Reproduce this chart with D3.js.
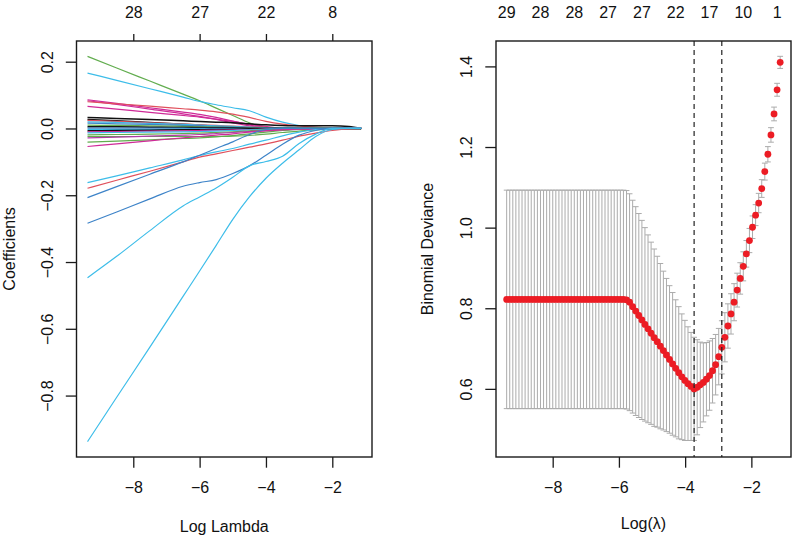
<!DOCTYPE html>
<html><head><meta charset="utf-8">
<script src="https://cdn.jsdelivr.net/npm/d3@7"></script>
<style>
body{margin:0;background:#fff}
svg{display:block}
text{font-family:"Liberation Sans",Arial,Helvetica,sans-serif;font-size:16px;fill:#111}
</style>
</head><body>
<svg id="chart" width="800" height="536"></svg>
<script>
// ---------------- LEFT PANEL DATA (coefficient paths) ----------------
const knotLogLambda = [-9.38,-8.5,-7.5,-6.5,-6,-5.5,-5,-4.5,-4,-3.5,-3,-2.5,-2,-1.5,-1.13];
const coefPaths = [
  [0.216,0.181,0.142,0.103,0.083,0.061,0.039,0.017,0.002,0,0,0,0,0,0],
  [0.166,0.144,0.119,0.094,0.081,0.071,0.062,0.053,0.034,0.019,0.009,0.003,0,0,0],
  [0.086,0.075,0.062,0.049,0.042,0.033,0.022,0.011,0.003,0,0,0,0,0,0],
  [0.083,0.072,0.058,0.044,0.036,0.027,0.017,0.008,0.002,0,0,0,0,0,0],
  [0.066,0.058,0.048,0.039,0.034,0.028,0.021,0.013,0.006,0.001,0,0,0,0,0],
  [0.080,0.074,0.067,0.059,0.055,0.050,0.043,0.033,0.021,0.013,0.008,0.004,0.001,0,0],
  [0.033,0.030,0.027,0.023,0.021,0.019,0.017,0.014,0.011,0.009,0.008,0.008,0.008,0.006,0],
  [0.027,0.023,0.018,0.013,0.010,0.007,0.004,0.002,0,0,0,0,0,0,0],
  [0.024,0.021,0.017,0.013,0.011,0.009,0.007,0.005,0.003,0.001,0,0,0,0,0],
  [0.020,0.018,0.015,0.012,0.010,0.008,0.006,0.004,0.002,0,0,0,0,0,0],
  [0.016,0.014,0.012,0.009,0.008,0.006,0.004,0.002,0,0,0,0,0,0,0],
  [0.010,0.009,0.008,0.006,0.005,0.004,0.003,0.002,0.001,0,0,0,0,0,0],
  [0.005,0.005,0.004,0.003,0.003,0.002,0.002,0.001,0,0,0,0,0,0,0],
  [0.001,0.001,0.001,0.001,0,0,0,0,0,0,0,0,0,0,0],
  [-0.003,-0.003,-0.003,-0.002,-0.002,-0.002,-0.001,-0.001,0,0,0,0,0,0,0],
  [-0.007,-0.006,-0.005,-0.004,-0.004,-0.003,-0.002,-0.001,0,0,0,0,0,0,0],
  [-0.010,-0.009,-0.008,-0.007,-0.006,-0.005,-0.004,-0.003,-0.002,-0.001,0,0,0,0,0],
  [-0.013,-0.012,-0.011,-0.010,-0.009,-0.008,-0.006,-0.004,-0.002,0,0,0,0,0,0],
  [-0.019,-0.018,-0.017,-0.015,-0.014,-0.012,-0.010,-0.007,-0.004,-0.002,0,0,0,0,0],
  [-0.024,-0.024,-0.024,-0.024,-0.024,-0.024,-0.023,-0.021,-0.017,-0.012,-0.008,-0.004,-0.001,0,0],
  [-0.028,-0.026,-0.023,-0.020,-0.018,-0.015,-0.012,-0.009,-0.006,-0.004,-0.003,-0.002,-0.001,0,0],
  [-0.041,-0.038,-0.034,-0.030,-0.028,-0.025,-0.021,-0.016,-0.011,-0.006,-0.002,0,0,0,0],
  [-0.054,-0.046,-0.037,-0.028,-0.024,-0.020,-0.016,-0.011,-0.007,-0.004,-0.002,-0.001,0,0,0],
  [-0.162,-0.142,-0.118,-0.094,-0.081,-0.070,-0.060,-0.047,-0.035,-0.022,-0.011,-0.003,0,0,0],
  [-0.179,-0.155,-0.128,-0.100,-0.086,-0.076,-0.066,-0.056,-0.046,-0.035,-0.023,-0.014,-0.006,-0.001,0],
  [-0.207,-0.174,-0.137,-0.100,-0.080,-0.060,-0.040,-0.018,-0.003,0,0,0,0,0,0],
  [-0.284,-0.250,-0.211,-0.173,-0.162,-0.153,-0.135,-0.112,-0.080,-0.047,-0.020,-0.006,0,0,0],
  [-0.447,-0.383,-0.306,-0.232,-0.205,-0.178,-0.146,-0.112,-0.099,-0.083,-0.045,-0.017,0,0,0],
  [-0.938,-0.805,-0.655,-0.503,-0.427,-0.350,-0.272,-0.205,-0.149,-0.104,-0.064,-0.024,-0.003,0,0]
];
const coefColors = [
  "#62ad4f","#3dbde9","#cf2a98","#cf2a98","#cf2a98","#e0505c","#111111","#111111",
  "#e0505c","#3dbde9","#3d83c8","#62ad4f","#111111","#3d83c8","#3dbde9","#111111",
  "#cf2a98","#3dbde9","#62ad4f","#62ad4f","#b03aa8","#62ad4f","#cf2a98","#3dbde9",
  "#e0505c","#3d83c8","#3d83c8","#3dbde9","#3dbde9"
];
const xTicks = [-8,-6,-4,-2];
const leftTopTicks = [-8,-6,-4,-2];
const leftTopLabels = ["28","27","22","8"];
const leftYTicks = [0.2,0.0,-0.2,-0.4,-0.6,-0.8];

// ---------------- RIGHT PANEL DATA (cross-validation) ----------------
const cvLogLambda = [
  -9.390,-9.297,-9.204,-9.112,-9.019,-8.926,-8.833,-8.740,-8.648,-8.555,
  -8.462,-8.369,-8.276,-8.183,-8.091,-7.998,-7.905,-7.812,-7.719,-7.627,
  -7.534,-7.441,-7.348,-7.255,-7.163,-7.070,-6.977,-6.884,-6.791,-6.699,
  -6.606,-6.513,-6.420,-6.327,-6.234,-6.142,-6.049,-5.956,-5.863,-5.770,
  -5.678,-5.585,-5.492,-5.399,-5.306,-5.214,-5.121,-5.028,-4.935,-4.842,
  -4.749,-4.657,-4.564,-4.471,-4.378,-4.285,-4.193,-4.100,-4.007,-3.914,
  -3.821,-3.729,-3.636,-3.543,-3.450,-3.357,-3.264,-3.172,-3.079,-2.986,
  -2.893,-2.800,-2.708,-2.615,-2.522,-2.429,-2.336,-2.244,-2.151,-2.058,
  -1.965,-1.872,-1.779,-1.687,-1.594,-1.501,-1.408,-1.315,-1.223,-1.130
];
const cvMean = [
  0.822,0.822,0.822,0.822,0.822,0.822,0.822,0.822,0.822,0.822,
  0.822,0.822,0.822,0.822,0.822,0.822,0.822,0.822,0.822,0.822,
  0.822,0.822,0.822,0.822,0.822,0.822,0.822,0.822,0.822,0.822,
  0.822,0.822,0.822,0.822,0.822,0.822,0.822,0.822,0.822,0.821,
  0.815,0.804,0.793,0.782,0.771,0.760,0.749,0.738,0.727,0.717,
  0.706,0.695,0.684,0.673,0.662,0.651,0.640,0.630,0.621,0.613,
  0.606,0.600,0.604,0.610,0.616,0.624,0.633,0.645,0.660,0.680,
  0.703,0.728,0.756,0.786,0.815,0.845,0.874,0.904,0.935,0.968,
  1.001,1.031,1.061,1.097,1.139,1.182,1.230,1.282,1.342,1.410
];
const cvSD = [
  0.271,0.271,0.271,0.271,0.271,0.271,0.271,0.271,0.271,0.271,
  0.271,0.271,0.271,0.271,0.271,0.271,0.271,0.271,0.271,0.271,
  0.271,0.271,0.271,0.271,0.271,0.271,0.271,0.271,0.271,0.271,
  0.271,0.271,0.271,0.271,0.271,0.271,0.271,0.271,0.271,0.271,
  0.269,0.264,0.259,0.253,0.247,0.240,0.233,0.226,0.220,0.212,
  0.205,0.197,0.190,0.183,0.177,0.170,0.164,0.156,0.149,0.141,
  0.134,0.128,0.118,0.106,0.098,0.091,0.086,0.080,0.075,0.070,
  0.066,0.061,0.055,0.050,0.046,0.042,0.039,0.036,0.033,0.030,
  0.028,0.026,0.024,0.022,0.021,0.019,0.018,0.017,0.016,0.015
];
const rightTopPos = [-9.390,-8.369,-7.348,-6.327,-5.306,-4.285,-3.264,-2.244,-1.223];
const rightTopLabels = ["29","28","28","27","27","22","17","10","1"];
const rightYTicks = [0.6,0.8,1.0,1.2,1.4];
const lambdaMin = -3.729;
const lambda1se = -2.893;

// ---------------- DRAWING ----------------
const svg = d3.select("#chart");
const LB = {x0:76.5, x1:372, y0:41, y1:457};
const RB = {x0:496, x1:791, y0:41, y1:457};
const xDom = [-9.712, -0.803];
const xL = d3.scaleLinear().domain(xDom).range([LB.x0, LB.x1]);
const yL = d3.scaleLinear().domain([-0.984, 0.262]).range([LB.y1, LB.y0]);
const xR = d3.scaleLinear().domain(xDom).range([RB.x0, RB.x1]);
const yR = d3.scaleLinear().domain([0.431, 1.463]).range([RB.y1, RB.y0]);
const fmtInt = d3.format("d");
const fmt1 = d3.format(".1f");
const axisColor = "#1a1a1a";

function styleAxis(g){
  g.select(".domain").remove();
  g.selectAll(".tick line").attr("stroke", axisColor).attr("stroke-width", 1.3);
  g.selectAll(".tick text").attr("fill", "#111").style("font-size","16px")
    .style("font-family",'"Liberation Sans",Arial,Helvetica,sans-serif');
}

// Left: paths
const lineGen = d3.line().x(d => xL(d[0])).y(d => yL(d[1])).curve(d3.curveMonotoneX);
const gPaths = svg.append("g");
coefPaths.forEach((vals, k) => {
  gPaths.append("path")
    .attr("d", lineGen(knotLogLambda.map((l, j) => [l, vals[j]])))
    .attr("fill", "none")
    .attr("stroke", coefColors[k])
    .attr("stroke-width", coefColors[k] === "#111111" ? 1.5 : 1.2);
});

// Left axes
const gxL = svg.append("g").attr("transform", `translate(0,${LB.y1})`)
  .call(d3.axisBottom(xL).tickValues(xTicks).tickSize(10.7).tickFormat(fmtInt));
styleAxis(gxL);
gxL.selectAll(".tick text").attr("y", 36).attr("dy", null);

const gtL = svg.append("g").attr("transform", `translate(0,${LB.y0})`)
  .call(d3.axisTop(xL).tickValues(leftTopTicks).tickSize(7).tickFormat((d, i) => leftTopLabels[i]));
styleAxis(gtL);
gtL.selectAll(".tick text").attr("y", -22.7).attr("dy", null);

const gyL = svg.append("g").attr("transform", `translate(${LB.x0},0)`)
  .call(d3.axisLeft(yL).tickValues(leftYTicks).tickSize(10.7).tickFormat(fmt1));
styleAxis(gyL);
gyL.selectAll(".tick text").attr("x", null).attr("dy", null)
  .attr("text-anchor", "middle").attr("transform", "translate(-23.3,0) rotate(-90)");

svg.append("rect").attr("x", LB.x0).attr("y", LB.y0)
  .attr("width", LB.x1 - LB.x0).attr("height", LB.y1 - LB.y0)
  .attr("fill", "none").attr("stroke", axisColor).attr("stroke-width", 1.4);

svg.append("text").attr("x", (LB.x0 + LB.x1) / 2).attr("y", 532)
  .attr("text-anchor", "middle").text("Log Lambda");
svg.append("text").attr("transform", `translate(15,${(LB.y0 + LB.y1) / 2}) rotate(-90)`)
  .attr("text-anchor", "middle").text("Coefficients");

// Right: error bars
const cv = cvLogLambda.map((l, i) => ({l, m: cvMean[i], up: cvMean[i] + cvSD[i], lo: cvMean[i] - cvSD[i]}));
const capW = 2.9;
const gErr = svg.append("g").attr("stroke", "#ababab").attr("stroke-width", 1);
gErr.selectAll("line.v").data(cv).join("line").attr("class", "v")
  .attr("x1", d => xR(d.l)).attr("x2", d => xR(d.l))
  .attr("y1", d => yR(d.up)).attr("y2", d => yR(d.lo));
gErr.selectAll("line.cu").data(cv).join("line").attr("class", "cu")
  .attr("x1", d => xR(d.l) - capW).attr("x2", d => xR(d.l) + capW)
  .attr("y1", d => yR(d.up)).attr("y2", d => yR(d.up));
gErr.selectAll("line.cl").data(cv).join("line").attr("class", "cl")
  .attr("x1", d => xR(d.l) - capW).attr("x2", d => xR(d.l) + capW)
  .attr("y1", d => yR(d.lo)).attr("y2", d => yR(d.lo));

// points
svg.append("g").selectAll("circle").data(cv).join("circle")
  .attr("cx", d => xR(d.l)).attr("cy", d => yR(d.m)).attr("r", 3.4)
  .attr("fill", "#ec1c24");

// Right axes
const gxR = svg.append("g").attr("transform", `translate(0,${RB.y1})`)
  .call(d3.axisBottom(xR).tickValues(xTicks).tickSize(10.7).tickFormat(fmtInt));
styleAxis(gxR);
gxR.selectAll(".tick text").attr("y", 36).attr("dy", null);

const gyR = svg.append("g").attr("transform", `translate(${RB.x0},0)`)
  .call(d3.axisLeft(yR).tickValues(rightYTicks).tickSize(10.7).tickFormat(fmt1));
styleAxis(gyR);
gyR.selectAll(".tick text").attr("x", null).attr("dy", null)
  .attr("text-anchor", "middle").attr("transform", "translate(-24.3,0) rotate(-90)");

svg.append("g").selectAll("text").data(rightTopPos).join("text")
  .attr("x", d => xR(d)).attr("y", 18.3).attr("text-anchor", "middle")
  .text((d, i) => rightTopLabels[i]);

// dashed lines
svg.append("g").selectAll("line").data([lambdaMin, lambda1se]).join("line")
  .attr("x1", d => xR(d)).attr("x2", d => xR(d))
  .attr("y1", RB.y0).attr("y2", RB.y1)
  .attr("stroke", "#222").attr("stroke-width", 1.2).attr("stroke-dasharray", "5,4");

svg.append("rect").attr("x", RB.x0).attr("y", RB.y0)
  .attr("width", RB.x1 - RB.x0).attr("height", RB.y1 - RB.y0)
  .attr("fill", "none").attr("stroke", axisColor).attr("stroke-width", 1.4);

svg.append("text").attr("x", (RB.x0 + RB.x1) / 2).attr("y", 529)
  .attr("text-anchor", "middle").text("Log(λ)");
svg.append("text").attr("transform", `translate(433.3,${(RB.y0 + RB.y1) / 2}) rotate(-90)`)
  .attr("text-anchor", "middle").text("Binomial Deviance");
</script>
</body></html>
